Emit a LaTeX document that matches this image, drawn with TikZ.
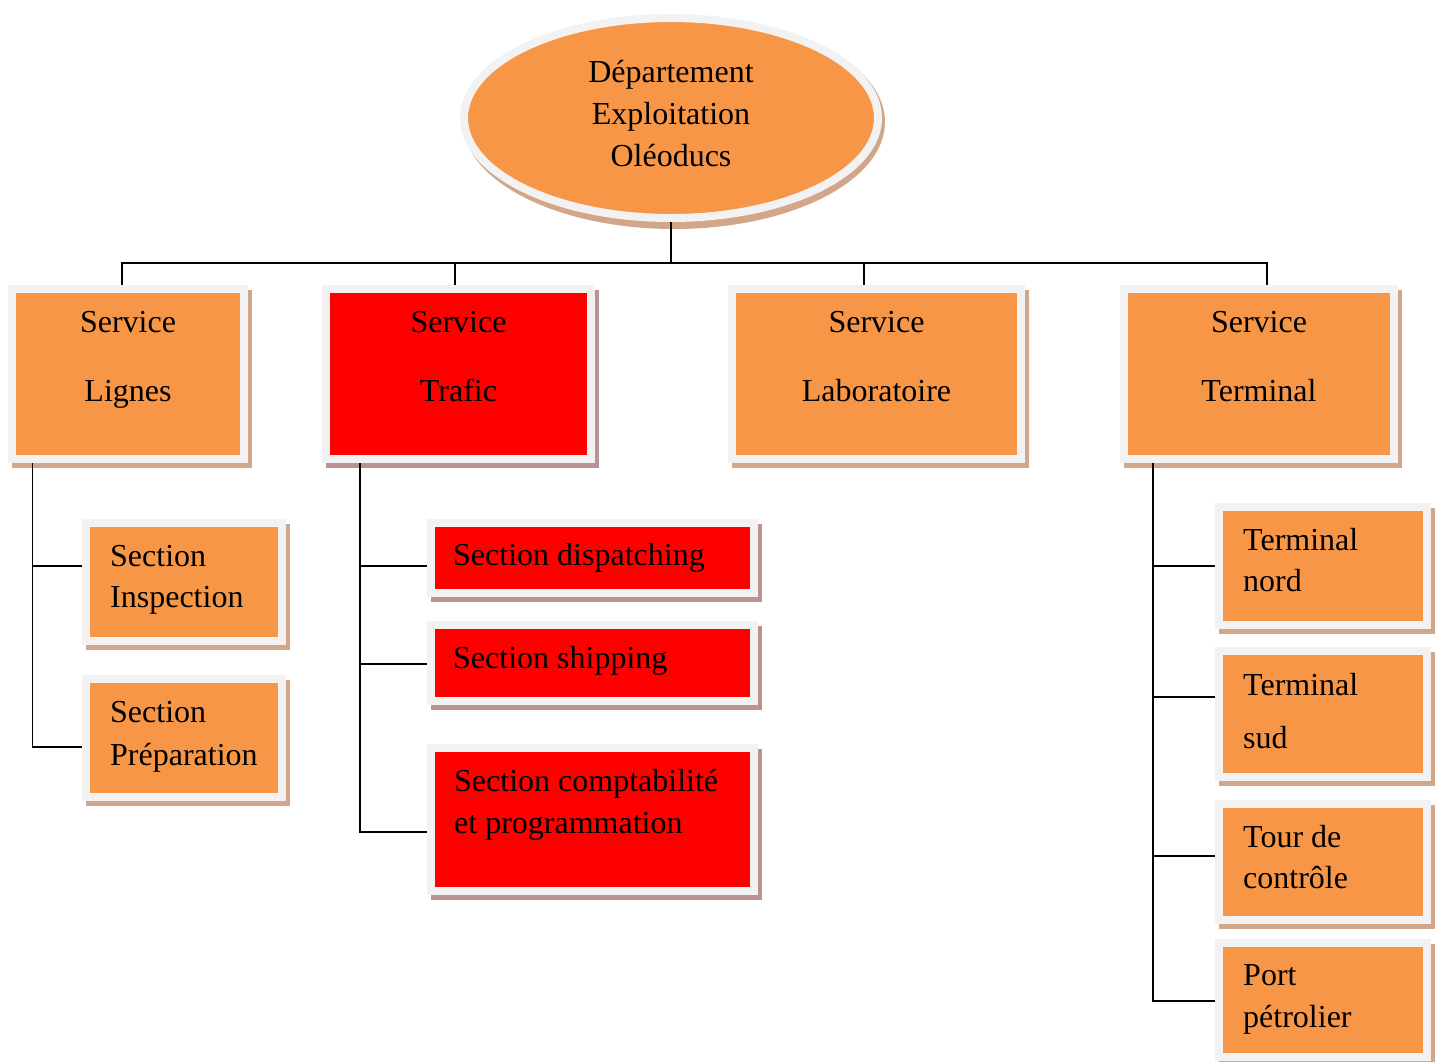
\documentclass[tikz,border=0pt]{standalone}
\usepackage{fontspec}
\setmainfont{Liberation Serif}
\usetikzlibrary{shapes.geometric,backgrounds}
\definecolor{boxorange}{HTML}{F79646}
\definecolor{boxred}{HTML}{FF0000}
\definecolor{rim}{HTML}{F2F2F2}
\definecolor{shadeO}{RGB}{210,166,136}
\definecolor{shadeR}{RGB}{186,146,146}

\begin{document}
\begin{tikzpicture}[x=1pt,y=-1pt,
  unit/.style={rectangle, draw=rim, line width=8pt, inner sep=0pt, outer sep=4pt},
  orangebox/.style={unit, fill=boxorange},
  redbox/.style={unit, fill=boxred},
  head/.style={ellipse, draw=rim, line width=8pt, fill=boxorange, inner sep=0pt, outer sep=4pt},
  txt/.style={inner sep=0pt, font=\fontsize{32}{38}\selectfont},
  mid/.style={txt, anchor=base},
  lft/.style={txt, anchor=base west},
  link/.style={draw=black, line width=1.6pt}
]
\useasboundingbox (0,0) rectangle (1439,1061);

% top of the chart
\node[head, minimum width=414pt, minimum height=200pt] (top) at (671,118) {};

% services
\node[orangebox, minimum width=232pt, minimum height=170pt] (lignes) at (128,374) {};
\node[redbox,    minimum width=265pt, minimum height=170pt] (trafic) at (458.5,374) {};
\node[orangebox, minimum width=289pt, minimum height=170pt] (lab)    at (876.5,374) {};
\node[orangebox, minimum width=270pt, minimum height=170pt] (term)   at (1259,374) {};

% sections
\node[orangebox, minimum width=196pt, minimum height=118pt] (insp) at (184,582) {};
\node[orangebox, minimum width=196pt, minimum height=118pt] (prep) at (184,738) {};
\node[redbox, minimum width=323pt, minimum height=70pt]  (disp)   at (592.5,558) {};
\node[redbox, minimum width=323pt, minimum height=76pt]  (ship)   at (592.5,663) {};
\node[redbox, minimum width=323pt, minimum height=143pt] (compta) at (592.5,819.5) {};
\node[orangebox, minimum width=208pt, minimum height=118pt] (nord) at (1323,566) {};
\node[orangebox, minimum width=208pt, minimum height=126pt] (sud)  at (1323,714) {};
\node[orangebox, minimum width=208pt, minimum height=116pt] (tour) at (1323,862) {};
\node[orangebox, minimum width=208pt, minimum height=114pt] (port) at (1323,1000) {};

% drop shadows
\begin{scope}[on background layer]
  \fill[shadeO] ([shift={(3,4)}]top.center) ellipse [x radius=211pt, y radius=107pt];
  \foreach \n in {lignes,lab,term,insp,prep,nord,sud,tour,port}
    \fill[shadeO] ([shift={(4,5)}]\n.north west) rectangle ([shift={(4,5)}]\n.south east);
  \foreach \n in {trafic,disp,ship,compta}
    \fill[shadeR] ([shift={(4,5)}]\n.north west) rectangle ([shift={(4,5)}]\n.south east);
\end{scope}

% texts
\node[mid] (d1) at (671,82)  {Département};
\node[mid] (d2) at (671,124) {Exploitation};
\node[mid] (d3) at (671,166) {Oléoducs};

\node[mid] (l1) at (128,332) {Service};
\node[mid] (l2) at (128,401) {Lignes};
\node[mid] (r1) at (458.5,332) {Service};
\node[mid] (r2) at (458.5,401) {Trafic};
\node[mid] (b1) at (876.5,332) {Service};
\node[mid] (b2) at (876.5,401) {Laboratoire};
\node[mid] (e1) at (1259,332) {Service};
\node[mid] (e2) at (1259,401) {Terminal};

\node[lft] (i1) at (110,566) {Section};
\node[lft] (i2) at (110,607) {Inspection};
\node[lft] (p1) at (110,722) {Section};
\node[lft] (p2) at (110,765) {Préparation};

\node[lft] (s1) at (453,565) {Section dispatching};
\node[lft] (s2) at (453,668) {Section shipping};
\node[lft] (c1) at (454,791) {Section comptabilité};
\node[lft] (c2) at (454,833) {et programmation};

\node[lft] (n1) at (1243,550) {Terminal};
\node[lft] (n2) at (1243,591) {nord};
\node[lft] (u1) at (1243,695) {Terminal};
\node[lft] (u2) at (1243,748) {sud};
\node[lft] (o1) at (1243,847) {Tour de};
\node[lft] (o2) at (1243,888) {contrôle};
\node[lft] (q1) at (1243,985) {Port};
\node[lft] (q2) at (1243,1027) {pétrolier};

% connectors
\coordinate (bus) at (671,263);
\draw[link] (top.south) -- (top.south |- bus);
\draw[link] ([xshift=-6pt]lignes.north) -- ([xshift=-6pt]lignes.north |- bus)
  -- ([xshift=8pt]term.north |- bus) -- ([xshift=8pt]term.north);
\draw[link] ([xshift=-3.5pt]trafic.north) -- ([xshift=-3.5pt]trafic.north |- bus);
\draw[link] ([xshift=-12.5pt]lab.north) -- ([xshift=-12.5pt]lab.north |- bus);

\draw[link] ([xshift=24.5pt]lignes.south west) |- ([yshift=16pt]insp.west);
\draw[link] ([xshift=24.5pt]lignes.south west) |- ([yshift=-9pt]prep.west);

\draw[link] ([xshift=38pt]trafic.south west) |- ([yshift=-8pt]disp.west);
\draw[link] ([xshift=38pt]trafic.south west) |- ([yshift=-1pt]ship.west);
\draw[link] ([xshift=38pt]trafic.south west) |- ([yshift=-12.5pt]compta.west);

\draw[link] ([xshift=33pt]term.south west) |- (nord.west);
\draw[link] ([xshift=33pt]term.south west) |- ([yshift=17pt]sud.west);
\draw[link] ([xshift=33pt]term.south west) |- ([yshift=6pt]tour.west);
\draw[link] ([xshift=33pt]term.south west) |- ([yshift=-1pt]port.west);
\end{tikzpicture}
\end{document}
